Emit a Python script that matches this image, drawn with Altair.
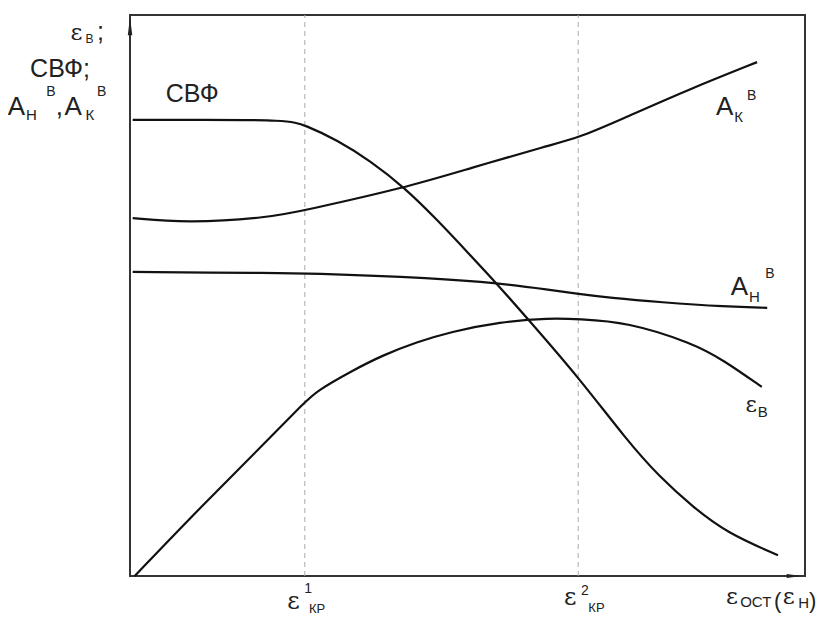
import altair as alt
import pandas as pd

# ---- curve data (abstract units, x: 0..10, y: 0..10) ----
svf_x = [0.04, 1.04, 2.33, 2.59, 3.07, 3.56, 4.07, 4.55, 5.04, 5.45, 5.88, 6.64, 7.36, 7.85, 8.34, 8.84, 9.60]
svf_y = [8.13, 8.13, 8.13, 8.04, 7.77, 7.40, 6.92, 6.35, 5.72, 5.19, 4.60, 3.55, 2.42, 1.76, 1.23, 0.77, 0.37]

ak_x = [0.04, 0.84, 2.07, 2.59, 4.07, 5.04, 6.22, 6.64, 7.26, 8.25, 9.29]
ak_y = [6.38, 6.29, 6.39, 6.52, 6.92, 7.27, 7.68, 7.81, 8.13, 8.66, 9.16]

ah_x = [0.04, 2.07, 2.59, 4.55, 5.45, 6.22, 6.64, 7.11, 7.85, 8.84, 9.44]
ah_y = [5.42, 5.40, 5.40, 5.31, 5.22, 5.10, 5.03, 4.96, 4.88, 4.80, 4.78]

eb_x = [0.07, 1.04, 2.04, 2.59, 2.77, 3.26, 3.75, 4.25, 4.74, 5.48, 6.22, 6.64, 7.36, 8.34, 8.79, 9.36]
eb_y = [0.00, 1.22, 2.42, 3.10, 3.30, 3.64, 3.94, 4.17, 4.35, 4.53, 4.60, 4.58, 4.53, 4.15, 3.85, 3.37]

crit_x = [2.59, 6.64]   # ε¹кр, ε²кр

# ---- annotation pieces: text, x, y (data units), font size ----
sans_t = ["В", ";", "СВФ;", "А", "Н", "В", ",", "А", "К", "В",
          "СВФ",
          "А", "К", "В",
          "А", "Н", "В",
          "В",
          "1", "КР", "2", "КР",
          "ОСТ", "(", "Н", ")"]
sans_x = [-0.66, -0.49, -1.48, -1.81, -1.54, -1.24, -1.10, -0.97, -0.66, -0.49,
          0.53,
          8.68, 8.95, 9.14,
          8.90, 9.17, 9.41,
          9.30,
          2.58, 2.65, 6.68, 6.79,
          9.04, 9.54, 9.90, 10.06]
sans_y = [9.50, 9.55, 8.89, 8.22, 8.13, 8.56, 8.22, 8.22, 8.13, 8.56,
          8.45,
          8.22, 8.09, 8.48,
          5.01, 4.88, 5.31,
          2.83,
          -0.30, -0.66, -0.34, -0.64,
          -0.55, -0.57, -0.57, -0.57]
sans_s = [12, 25, 25, 26, 15, 14, 26, 26, 15, 14,
          25,
          26, 15, 14,
          26, 15, 14,
          15,
          14, 13, 14, 13,
          15, 22, 15, 22]

serif_t = ["ε", "ε", "ε", "ε", "ε", "ε"]
serif_x = [-0.88, 9.12, 2.33, 6.43, 8.83, 9.67]
serif_y = [9.55, 2.92, -0.59, -0.52, -0.50, -0.50]
serif_s = [23, 22, 24, 24, 23, 23]

rows = []
for name, xs, ys in [("СВФ", svf_x, svf_y), ("Ак", ak_x, ak_y),
                     ("Ан", ah_x, ah_y), ("εв", eb_x, eb_y)]:
    for i, (a, b) in enumerate(zip(xs, ys)):
        rows.append({"series": name, "x": a, "y": b, "i": i})
lines_df = pd.DataFrame(rows)

sc_x = alt.Scale(domain=[0, 10], nice=False, zero=False)
sc_y = alt.Scale(domain=[0, 10], nice=False, zero=False)
X = alt.X("x:Q", scale=sc_x, axis=None)
Y = alt.Y("y:Q", scale=sc_y, axis=None)

lines = alt.Chart(lines_df).mark_line(
    color="#111", strokeWidth=2.2, interpolate="basis", clip=False
).encode(x=X, y=Y, detail="series:N", order="i:Q")

crit = alt.Chart(pd.DataFrame({"x": crit_x, "y": [0, 0], "y2": [10, 10]})).mark_rule(
    color="#aaaaaa", strokeDash=[5, 4], strokeWidth=1
).encode(x=X, y=Y, y2="y2:Q")

up_arrow = alt.Chart(pd.DataFrame({"x": [0.0], "y": [9.80]})).mark_point(
    shape="M0,-1L0.25,1L-0.25,1Z", size=324, filled=True, color="#222", opacity=1
).encode(x=X, y=Y)

right_arrow = alt.Chart(pd.DataFrame({"x": [9.84], "y": [0.0]})).mark_point(
    shape="M1,0L-1,-0.27L-1,0.27Z", size=225, filled=True, color="#222", opacity=1
).encode(x=X, y=Y)

sans = alt.Chart(pd.DataFrame({"t": sans_t, "x": sans_x, "y": sans_y, "s": sans_s})).mark_text(
    align="left", baseline="alphabetic", font="Liberation Sans", color="#222"
).encode(x=X, y=Y, text="t:N", size=alt.Size("s:Q", scale=None))

serif = alt.Chart(pd.DataFrame({"t": serif_t, "x": serif_x, "y": serif_y, "s": serif_s})).mark_text(
    align="left", baseline="alphabetic", font="DejaVu Serif", color="#222"
).encode(x=X, y=Y, text="t:N", size=alt.Size("s:Q", scale=None))

chart = alt.layer(crit, lines, up_arrow, right_arrow, sans, serif).properties(
    width=675, height=561,
    autosize=alt.AutoSizeParams(type="none"),
    padding={"left": 122, "top": 7, "right": 13, "bottom": 39},
    background="white",
).configure_view(stroke="#333", strokeWidth=2)

chart.save("out.html", embed_options={"renderer": "svg", "actions": False})
